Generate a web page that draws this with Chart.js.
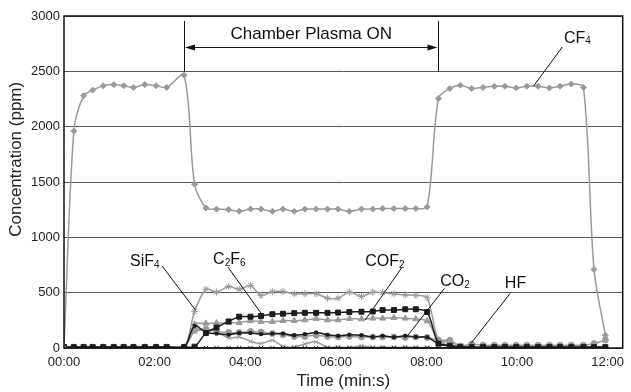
<!DOCTYPE html>
<html>
<head>
<meta charset="utf-8">
<script src="https://cdn.jsdelivr.net/npm/chart.js@4.4.1/dist/chart.umd.min.js"></script>
<style>
  html, body { margin: 0; padding: 0; background: #fff; }
</style>
</head>
<body>
<canvas id="chart" width="631" height="392"></canvas>
<script>
// sample times in seconds (FTIR scans)
const times = [0, 13, 26, 38, 52, 66, 79, 92, 107, 122,
  136, 159, 173, 188, 202, 218, 232, 247, 261, 276,
  290, 305, 319, 334, 349, 363, 378, 394, 409, 422,
  437, 452, 466, 481, 496, 511, 525, 540, 555, 570,
  584, 599, 613, 628, 643, 657, 672, 688, 702, 717];
const tickSeconds = [0, 120, 240, 360, 480, 600, 720];
const yTicks = [0, 500, 1000, 1500, 2000, 2500, 3000];

// concentrations in ppm
const cf4 = [0, 1960, 2280, 2330, 2370, 2380, 2370, 2355, 2380, 2370,
  2355, 2465, 1480, 1265, 1255, 1250, 1235, 1255, 1255, 1235,
  1255, 1235, 1255, 1255, 1255, 1255, 1235, 1255, 1255, 1260,
  1260, 1260, 1260, 1275, 2255, 2345, 2375, 2345, 2355, 2365,
  2365, 2350, 2365, 2365, 2350, 2365, 2385, 2355, 710, 115];
const sif4 = [0, 0, 0, 0, 0, 0, 0, 0, 0, 0,
  0, 0, 330, 530, 505, 555, 530, 565, 475, 510,
  510, 490, 490, 490, 450, 450, 505, 465, 505, 500,
  490, 480, 475, 455, 70, 55, 15, 5, 5, 5,
  5, 5, 5, 5, 5, 5, 5, 5, 5, 5];
const c2f6 = [8, 8, 8, 8, 8, 8, 8, 8, 8, 8,
  8, 8, 12, 135, 185, 240, 283, 283, 290, 305,
  310, 315, 318, 318, 318, 320, 325, 328, 330, 343,
  343, 350, 350, 325, 40, 20, 10, 8, 8, 8,
  8, 8, 8, 8, 8, 8, 8, 8, 8, 8];
const cof2 = [5, 5, 5, 5, 5, 5, 5, 5, 5, 5,
  5, 5, 215, 222, 225, 229, 229, 245, 238, 238,
  247, 247, 253, 265, 253, 253, 265, 262, 268, 268,
  274, 268, 262, 244, 70, 20, 8, 5, 5, 5,
  5, 5, 5, 5, 5, 5, 5, 5, 5, 5];
const co2 = [5, 5, 5, 5, 5, 5, 5, 5, 5, 5,
  5, 5, 200, 140, 130, 120, 135, 135, 125, 130,
  130, 115, 125, 140, 120, 110, 120, 115, 100, 110,
  97, 111, 100, 97, 40, 20, 10, 5, 5, 5,
  5, 5, 5, 5, 5, 5, 5, 5, 5, 5];
const hf = [8, 8, 8, 8, 8, 8, 8, 8, 8, 8,
  8, 8, 160, 170, 150, 140, 140, 150, 145, 130,
  120, 105, 105, 115, 105, 100, 105, 100, 100, 100,
  100, 95, 100, 95, 70, 70, 18, 36, 25, 25,
  25, 25, 25, 25, 25, 25, 25, 25, 40, 72];
const traceGrey = [5, 5, 5, 5, 5, 5, 5, 5, 5, 5,
  5, 5, 150, 165, 150, 90, 100, 60, 40, 70,
  15, 10, 35, 55, 5, 10, 5, 20, 5, 10,
  5, 10, 5, 5, 0, 0, 0, 0, 0, 0,
  0, 0, 0, 0, 0, 0, 0, 0, 0, 0];
const traceBlack = [0, 0, 0, 0, 0, 0, 0, 0, 0, 0,
  0, 0, 0, 0, 0, 0, 0, 0, 0, 0,
  0, 0, 0, 0, 0, 0, 0, 0, 0, 0,
  0, 0, 0, 0, 0, 0, 0, 0, 0, 0,
  0, 0, 0, 0, 0, 0, 0, 0, 0, 0];

const GREY = "#9a9a9a";
const BLACK = "#1c1c1c";
const FONT = "'Liberation Sans', Arial, sans-serif";

const pts = (vals) => vals.map((v, i) => ({ x: times[i], y: v }));

function series(label, vals, color, style, radius) {
  return {
    label,
    data: pts(vals),
    borderColor: color,
    backgroundColor: color,
    pointBackgroundColor: color,
    pointBorderColor: color,
    borderWidth: 1.5,
    pointBorderWidth: 1,
    pointStyle: style,
    pointRadius: radius,
    tension: 0.3,
  };
}

// text labels + leader lines, positions in data units (s, ppm)
const labels = [
  { parts: [["CF", 0], ["4", 1]], at: [680, 2800], line: [[660, 2720], [622, 2367]] },
  { parts: [["SiF", 0], ["4", 1]], at: [107, 777], line: [[130, 741], [174, 343]] },
  { parts: [["C", 0], ["2", 1], ["F", 0], ["6", 1]], at: [219, 795], line: [[217, 732], [261, 314]] },
  { parts: [["COF", 0], ["2", 1]], at: [425, 777], line: [[447, 723], [399, 253]] },
  { parts: [["CO", 0], ["2", 1]], at: [518, 596], line: [[504, 539], [454, 102]] },
  { parts: [["HF", 0]], at: [598, 578], line: [[591, 494], [539, 42]] },
];

function chem(ctx, parts, cx, cy) {
  const big = "16px " + FONT, small = "10px " + FONT;
  let w = 0;
  parts.forEach(([t, sub]) => { ctx.font = sub ? small : big; w += ctx.measureText(t).width; });
  let x = cx - w / 2;
  ctx.textBaseline = "middle";
  ctx.textAlign = "left";
  parts.forEach(([t, sub]) => {
    ctx.font = sub ? small : big;
    ctx.fillText(t, x, sub ? cy + 3 : cy);
    x += ctx.measureText(t).width;
  });
}

const notes = {
  id: "notes",
  afterDraw(chart) {
    const { ctx, chartArea: a, scales: { x, y } } = chart;
    ctx.save();
    ctx.strokeStyle = "#111";
    ctx.fillStyle = "#111";

    // frame round the plot
    ctx.lineWidth = 1.5;
    ctx.strokeRect(a.left, a.top, a.right - a.left, a.bottom - a.top);

    // "Chamber Plasma ON" bracket
    ctx.lineWidth = 1;
    const x1 = x.getPixelForValue(159), x2 = x.getPixelForValue(496);
    const yTop = y.getPixelForValue(2955), yBot = y.getPixelForValue(2500);
    const yArr = Math.round(y.getPixelForValue(2720)) + 0.5;
    ctx.beginPath();
    ctx.moveTo(Math.round(x1) + 0.5, yTop); ctx.lineTo(Math.round(x1) + 0.5, yBot);
    ctx.moveTo(Math.round(x2) + 0.5, yTop); ctx.lineTo(Math.round(x2) + 0.5, yBot);
    ctx.moveTo(x1 + 8, yArr); ctx.lineTo(x2 - 8, yArr);
    ctx.stroke();
    ctx.beginPath();
    ctx.moveTo(x1 + 1, yArr); ctx.lineTo(x1 + 11, yArr - 3); ctx.lineTo(x1 + 11, yArr + 3); ctx.closePath();
    ctx.moveTo(x2 - 1, yArr); ctx.lineTo(x2 - 11, yArr - 3); ctx.lineTo(x2 - 11, yArr + 3); ctx.closePath();
    ctx.fill();
    ctx.font = "17px " + FONT;
    ctx.textAlign = "center";
    ctx.textBaseline = "middle";
    ctx.fillText("Chamber Plasma ON", (x1 + x2) / 2, y.getPixelForValue(2837));

    // y axis title, set a little above the plot's middle as in the original
    ctx.save();
    ctx.translate(16, y.getPixelForValue(1705));
    ctx.rotate(-Math.PI / 2);
    ctx.fillStyle = "#222";
    ctx.fillText("Concentration (ppm)", 0, 0);
    ctx.restore();

    // species labels
    labels.forEach((l) => {
      chem(ctx, l.parts, x.getPixelForValue(l.at[0]), y.getPixelForValue(l.at[1]));
      ctx.beginPath();
      ctx.moveTo(x.getPixelForValue(l.line[0][0]), y.getPixelForValue(l.line[0][1]));
      ctx.lineTo(x.getPixelForValue(l.line[1][0]), y.getPixelForValue(l.line[1][1]));
      ctx.stroke();
    });
    ctx.restore();
  },
};

const mmss = (v) => {
  const m = Math.floor(v / 60), s = v % 60;
  return String(m).padStart(2, "0") + ":" + String(s).padStart(2, "0");
};

new Chart(document.getElementById("chart"), {
  type: "line",
  data: {
    datasets: [
      series("CF4", cf4, GREY, "rectRot", 3),
      series("C2F6", c2f6, BLACK, "rect", 3.5),
      series("CO2", co2, BLACK, "rect", 2),
      series("trace2", traceBlack, BLACK, "crossRot", 3),
      series("SiF4", sif4, GREY, "star", 3.5),
      series("COF2", cof2, GREY, "triangle", 3.5),
      series("HF", hf, GREY, "circle", 3),
      series("trace1", traceGrey, GREY, "crossRot", 3),
    ],
  },
  options: {
    responsive: false,
    animation: false,
    events: [],
    layout: { padding: { top: 16, right: 3, bottom: 0, left: 0 } },
    plugins: { legend: { display: false }, tooltip: { enabled: false } },
    scales: {
      x: {
        type: "linear",
        min: 0,
        max: 740,
        afterFit: (s) => { s.height = 44; },
        afterBuildTicks: (s) => { s.ticks = tickSeconds.map((v) => ({ value: v })); },
        grid: { display: false, drawTicks: false },
        border: { display: false },
        ticks: { callback: (v) => mmss(v), padding: 7, maxRotation: 0, color: "#222", font: { family: FONT, size: 13 } },
        title: { display: true, text: "Time (min:s)", color: "#222", padding: { top: 0, bottom: 0 }, font: { family: FONT, size: 17 } },
      },
      y: {
        min: 0,
        max: 3000,
        afterFit: (s) => { s.width = 64; },
        afterBuildTicks: (s) => { s.ticks = yTicks.map((v) => ({ value: v })); },
        grid: { color: "#5a5a5a", lineWidth: 1, drawTicks: false },
        border: { display: false },
        ticks: { callback: (v) => String(v), padding: 4, color: "#222", font: { family: FONT, size: 13 } },
      },
    },
  },
  plugins: [notes],
});
</script>
</body>
</html>
